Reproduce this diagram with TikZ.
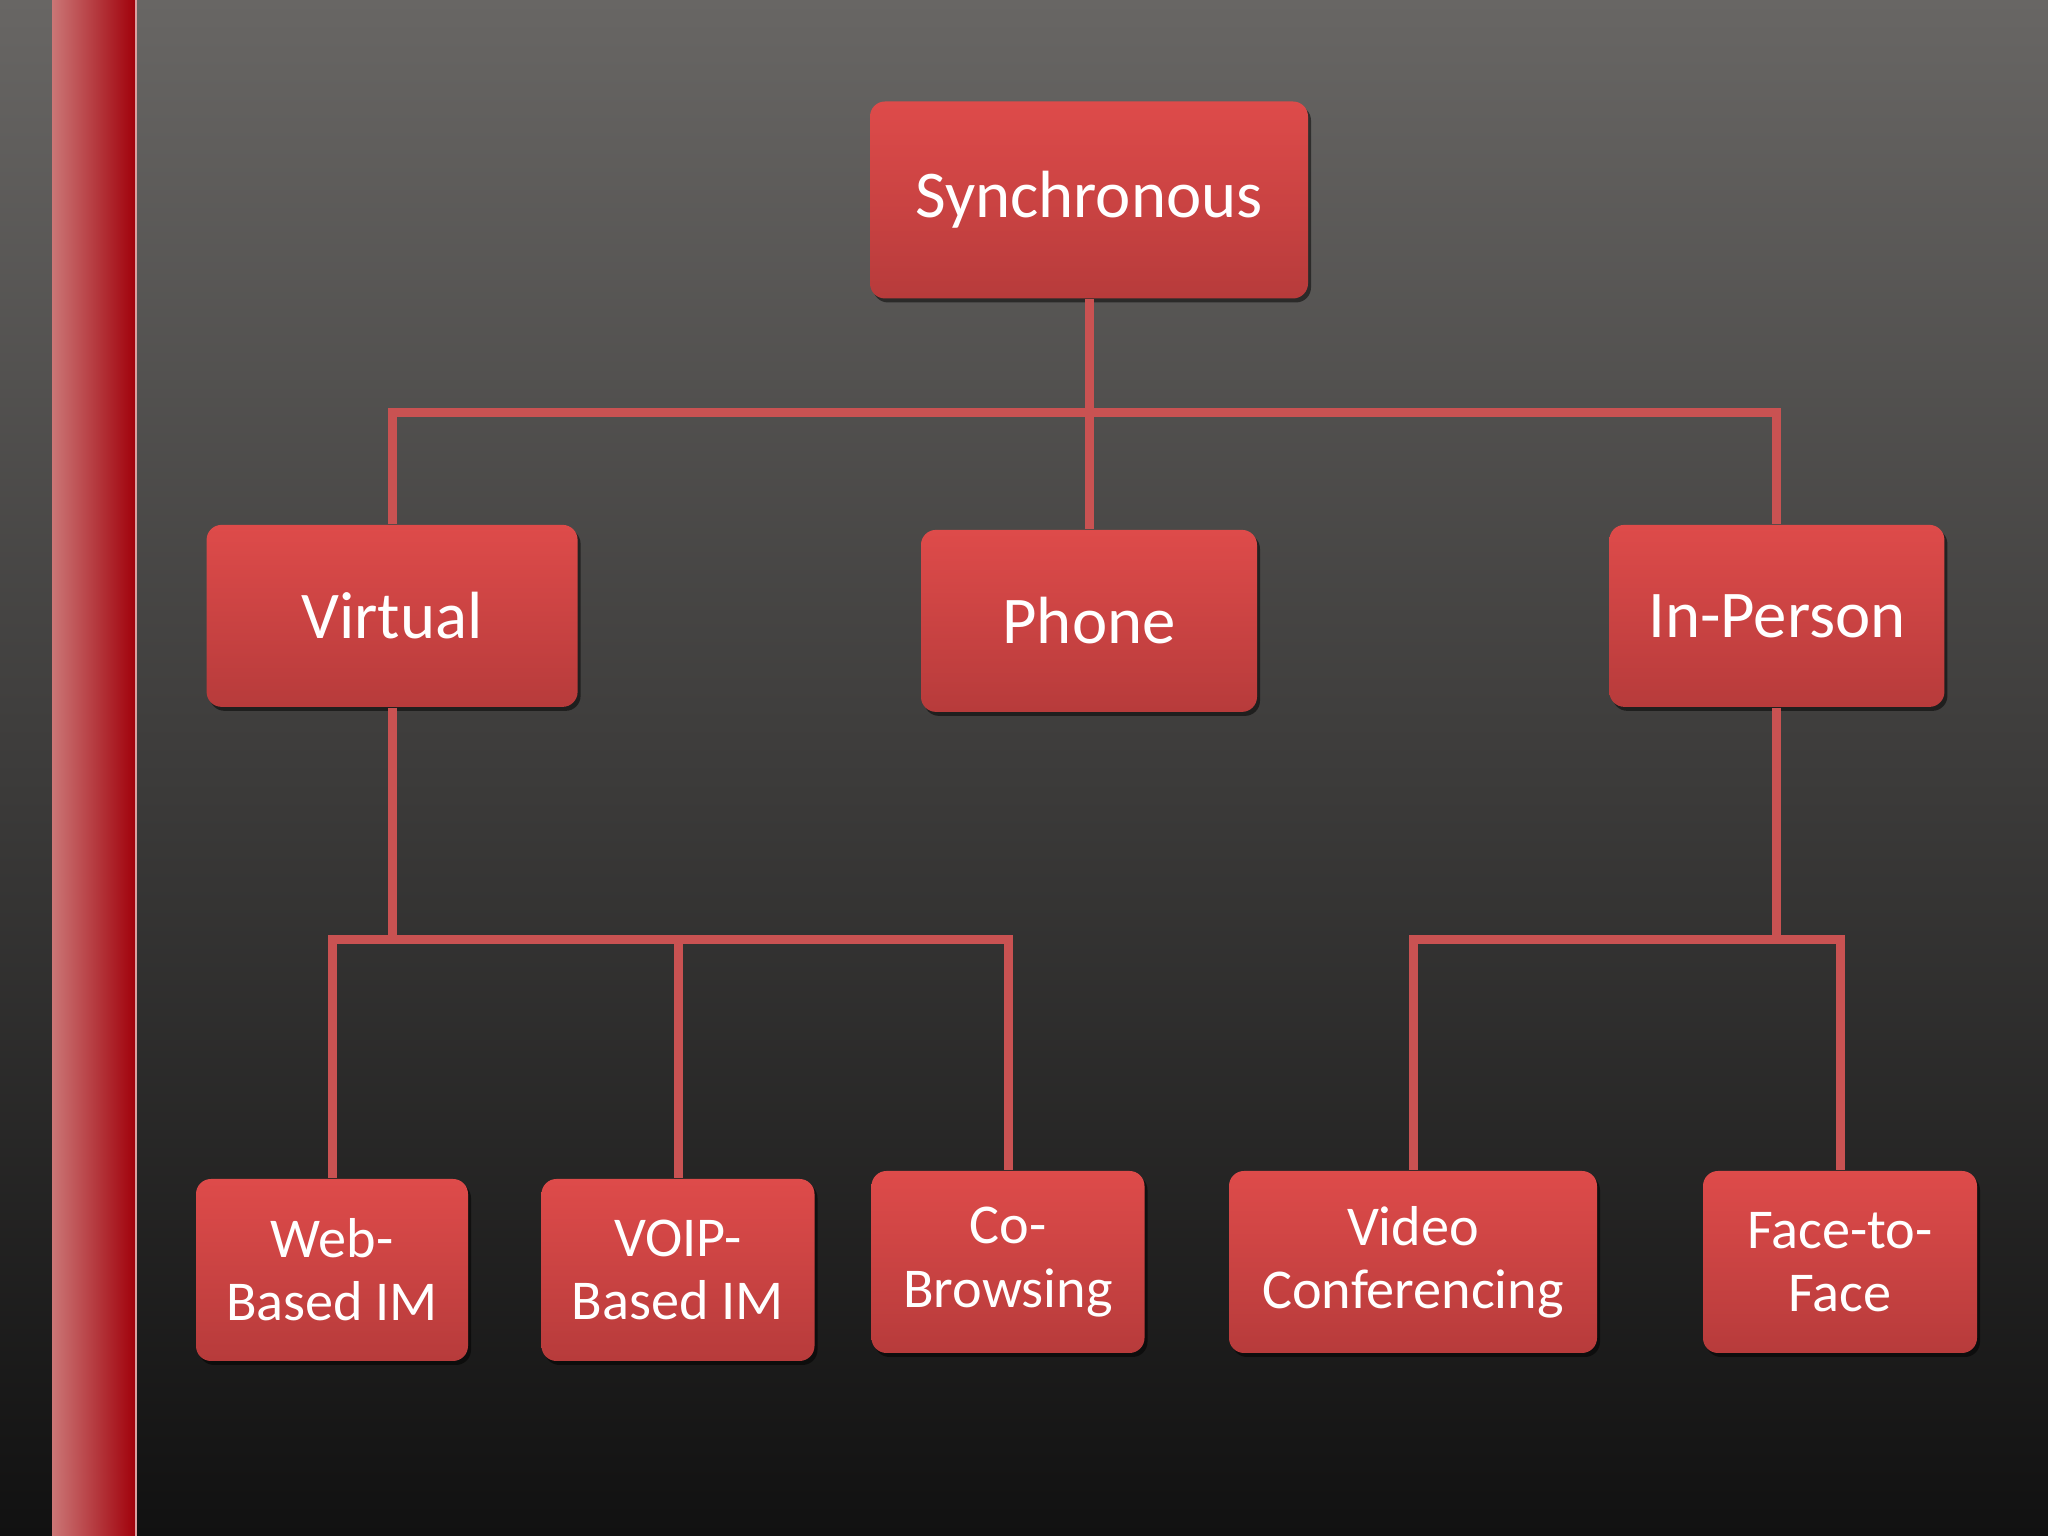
\documentclass[tikz,border=0pt]{standalone}
\usepackage{fontspec}
\setmainfont{Carlito}
\usetikzlibrary{positioning,shadows}
\definecolor{boxtop}{HTML}{DE4B4A}
\definecolor{boxbot}{HTML}{B73B3B}
\definecolor{linkred}{HTML}{C95252}
\definecolor{bgtop}{HTML}{686664}
\definecolor{bgbot}{HTML}{111111}
\definecolor{barlight}{HTML}{CB7676}
\definecolor{bardark}{HTML}{A0000A}

\begin{document}
\begin{tikzpicture}[
      box/.style={rounded corners=0.15cm, top color=boxtop, bottom color=boxbot,
                  text=white, align=center, inner sep=0pt, minimum height=1.82cm,
                  drop shadow={shadow xshift=0.03cm, shadow yshift=-0.04cm,
                               fill=black, opacity=0.5}},
      big/.style={box, font=\fontsize{19}{21}\selectfont},
      leaf/.style={box, font=\fontsize{16}{18}\selectfont},
      link/.style={draw=linkred, line width=0.09cm},
    ]
    \useasboundingbox (0,0) rectangle (20.48,15.36);
    % slide background and side bar
    \fill[top color=bgtop, bottom color=bgbot] (0,0) rectangle (20.48,15.36);
    \shade[left color=barlight, right color=bardark] (0.52,0) rectangle (1.36,15.36);
    \draw[barlight!70!white, line width=0.3pt] (1.36,0) -- (1.36,15.36);
    % top level
    \node[big, minimum width=4.38cm, minimum height=1.97cm] (sync) at (10.89,13.36) {Synchronous};
    % second level
    \node[big, minimum width=3.36cm, below=2.30cm of sync]  (phone)    {Phone};
    \node[big, minimum width=3.71cm, left=3.42cm of phone, yshift=0.05cm]  (virtual)  {Virtual};
    \node[big, minimum width=3.35cm, right=3.51cm of phone, yshift=0.05cm] (inperson) {In-Person};
    % third level
    \node[leaf, minimum width=2.72cm] (web)     at (3.32,2.66)  {Web-\\Based IM};
    \node[leaf, minimum width=2.73cm] (voip)    at (6.78,2.66)  {VOIP-\\Based IM};
    \node[leaf, minimum width=2.73cm] (cobrow)  at (10.08,2.74) {Co-\\Browsing};
    \node[leaf, minimum width=3.68cm] (video)   at (14.13,2.74) {Video\\Conferencing};
    \node[leaf, minimum width=2.74cm] (face)    at (18.40,2.74) {Face-to-\\Face};
    % bus levels
    \coordinate (topbus) at (0,11.23);
    \coordinate (lowbus) at (0,5.96);
    % connectors
    \draw[link] (sync.south) -- (phone.north);
    \draw[link] (sync.south |- topbus) -| (virtual.north);
    \draw[link] (sync.south |- topbus) -| (inperson.north);
    \draw[link] (virtual.south) -- (virtual.south |- lowbus);
    \foreach \n in {web,voip,cobrow}{
      \draw[link] (virtual.south |- lowbus) -| (\n.north);
    }
    \draw[link] (inperson.south) -- (inperson.south |- lowbus);
    \foreach \n in {video,face}{
      \draw[link] (inperson.south |- lowbus) -| (\n.north);
    }
  \end{tikzpicture}
\end{document}
